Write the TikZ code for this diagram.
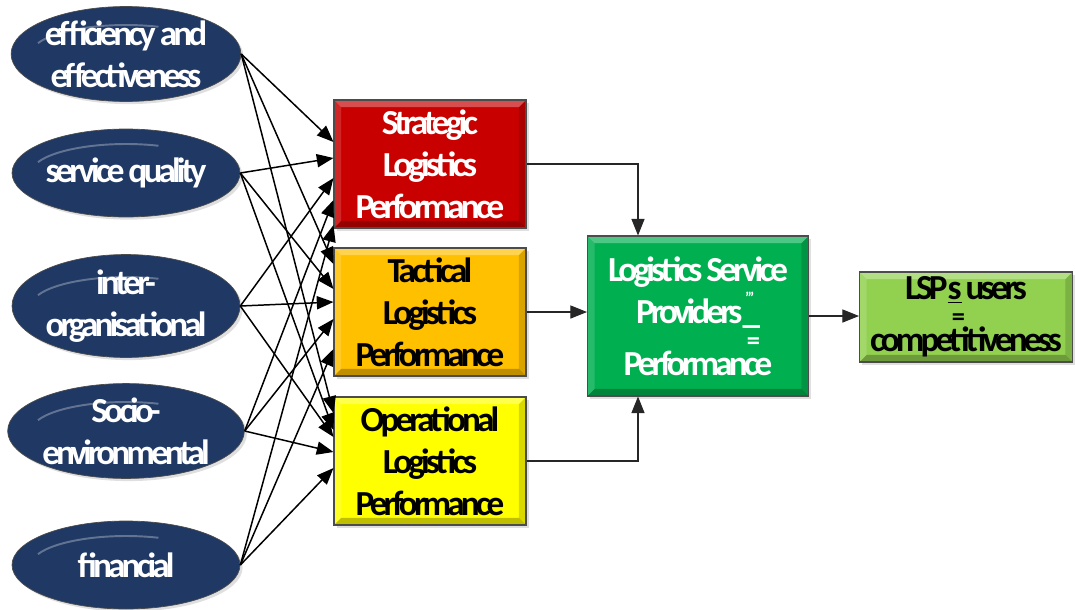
\documentclass[tikz,border=0pt]{standalone}
\usepackage{fontspec}
\setmainfont{Carlito}
\newfontfamily\tightfont{Carlito}[LetterSpace=-11]
\usetikzlibrary{arrows.meta, positioning, calc, shapes.geometric, shadows}
\definecolor{factornavy}{RGB}{31,56,100}
\definecolor{stratred}{RGB}{200,0,0}
\definecolor{tactamber}{RGB}{255,192,0}
\definecolor{operyellow}{RGB}{255,255,0}
\definecolor{lspgreen}{RGB}{0,176,80}
\definecolor{usergreen}{RGB}{146,208,80}

\begin{document}
\begin{tikzpicture}[
        x=0.02cm, y=-0.02cm,
        >={Triangle[length=9.5pt,width=7.5pt]},
        lbl/.style    ={font=\fontsize{20}{24}\selectfont\bfseries\tightfont, align=center},
        factor/.style ={ellipse, lbl, draw=black!70, fill=factornavy, text=white,
                        minimum width=4.56cm, minimum height=1.76cm, inner sep=0pt,
                        drop shadow={opacity=0.25, shadow xshift=1.5pt, shadow yshift=-1.5pt},
                        path picture={
                            \draw[white, opacity=0.3, line width=1.1pt]
                                ($(path picture bounding box.center)+(158:1.9cm and 0.58cm)$)
                                arc[start angle=158, end angle=70, x radius=1.9cm, y radius=0.58cm];
                        }},
        level/.style  ={rectangle, lbl, draw=black!70, line width=0.6pt,
                        minimum width=3.84cm, minimum height=2.56cm, inner sep=0pt,
                        drop shadow={opacity=0.25, shadow xshift=1.5pt, shadow yshift=-1.5pt},
                        path picture={
                            \coordinate (nw) at (path picture bounding box.north west);
                            \coordinate (ne) at (path picture bounding box.north east);
                            \coordinate (sw) at (path picture bounding box.south west);
                            \coordinate (se) at (path picture bounding box.south east);
                            \fill[white, opacity=0.3] (nw) -- (ne) -- ($(ne)+(-4pt,-4pt)$) -- ($(nw)+(4pt,-4pt)$) -- cycle;
                            \fill[white, opacity=0.15] (nw) -- (sw) -- ($(sw)+(4pt,4pt)$) -- ($(nw)+(4pt,-4pt)$) -- cycle;
                            \fill[black, opacity=0.25] (sw) -- (se) -- ($(se)+(-4pt,4pt)$) -- ($(sw)+(4pt,4pt)$) -- cycle;
                            \fill[black, opacity=0.15] (se) -- (ne) -- ($(ne)+(-4pt,-4pt)$) -- ($(se)+(-4pt,4pt)$) -- cycle;
                        }},
        link/.style   ={->, line width=0.85pt},
        elbow/.style  ={->, line width=0.6pt, draw=black!85}
    ]
    \useasboundingbox (0,0) rectangle (1075,609);

    % performance dimensions
    \node[factor] (eff)   at (126,54)  {efficiency and\\effectiveness};
    \node[factor] (qual)  at (126,173) {service quality};
    \node[factor] (inter) at (126,306) {inter-\\organisational};
    \node[factor] (socio) at (126,431) {Socio-\\environmental};
    \node[factor] (fin)   at (126,565) {financial};

    % logistics performance levels
    \node[level, fill=stratred, text=white] (strat) at (430,164) {Strategic\\Logistics\\Performance};
    \node[level, fill=tactamber]            (tact)  at (430,312) {Tactical\\Logistics\\Performance};
    \node[level, fill=operyellow]           (oper)  at (430,461) {Operational\\Logistics\\Performance};

    \node[level, fill=lspgreen, text=white, minimum width=4.42cm, minimum height=3.2cm] (lsp) at (698,316)
        {Logistics Service\\Providers\rlap{\raisebox{-1.5ex}{\fontsize{15}{15}\selectfont\,=}}\rlap{\raisebox{1.2ex}{\fontsize{9}{9}\selectfont\,’”}}\_\\Performance};
    \node[level, fill=usergreen, minimum width=4.26cm, minimum height=1.8cm] (users) at (966,317)
        {LSP\rlap{\raisebox{-1.5ex}{\fontsize{15}{15}\selectfont\,=}}\underline{s} users\\competitiveness};

    % every dimension feeds every level
    \foreach \src/\a/\b/\c in {eff/-22/-48/-48, qual/-6/-23/-31, inter/14/-10/-24,
                               socio/36/7/-9, fin/61/37/7}{
        \draw[link] (\src.east) -- ($(strat.west)+(0,\a)$);
        \draw[link] (\src.east) -- ($(tact.west)+(0,\b)$);
        \draw[link] (\src.east) -- ($(oper.west)+(0,\c)$);
    }

    \draw[elbow] (strat.east) -| ($(lsp.north)+(-60,0)$);
    \draw[elbow] (tact.east) -- (tact.east -| lsp.west);
    \draw[elbow] (oper.east) -| ($(lsp.south)+(-60,0)$);
    \draw[elbow] (lsp.east) -- (lsp.east -| users.west);
\end{tikzpicture}
\end{document}
